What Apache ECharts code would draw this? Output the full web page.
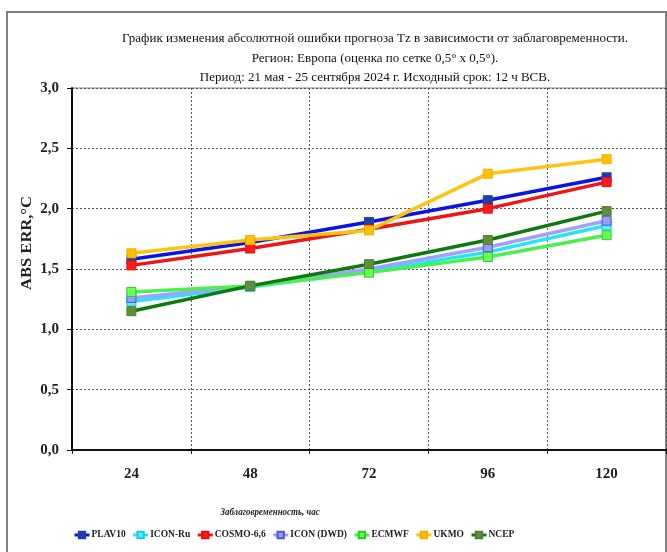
<!DOCTYPE html>
<html><head><meta charset="utf-8">
<script src="https://cdn.jsdelivr.net/npm/echarts@6/dist/echarts.min.js"></script>
<style>html,body{margin:0;padding:0;background:#fff}#c{width:667px;height:552px}</style>
</head><body><div id="c"></div>
<script>
const categories = ['24','48','72','96','120'];
const yTicks = ['0,0','0,5','1,0','1,5','2,0','2,5','3,0'];
const PLAV10 = [1.58, 1.72, 1.89, 2.07, 2.26];
const ICON_Ru = [1.23, 1.35, 1.48, 1.64, 1.86];
const COSMO = [1.53, 1.67, 1.83, 2.00, 2.22];
const ICON_DWD = [1.26, 1.36, 1.50, 1.68, 1.90];
const ECMWF = [1.31, 1.36, 1.47, 1.60, 1.78];
const UKMO = [1.63, 1.74, 1.82, 2.29, 2.41];
const NCEP = [1.15, 1.36, 1.54, 1.74, 1.98];
const names = ['PLAV10','ICON-Ru','COSMO-6,6','ICON (DWD)','ECMWF','UKMO','NCEP'];
const dataSets = [PLAV10, ICON_Ru, COSMO, ICON_DWD, ECMWF, UKMO, NCEP];
const lineColors = ['#0a14e6','#22e6f5','#f01414','#a0a0ff','#4cf04c','#ffc20e','#0e7a0e'];
const markColors = ['#1f3fa8','#55f0ff','#ff1a1a','#9a9aff','#66ff55','#ffc000','#5f8f3c'];
const markBorders = ['#1f3fa8','#22c8e0','#e01010','#4a5ad8','#2ec82e','#f0b000','#4f7f30'];

const serif = '"Liberation Serif","Times New Roman",serif';
const chart = echarts.init(document.getElementById('c'));
chart.setOption({
  animation: false,
  title: {
    text: 'График изменения абсолютной ошибки прогноза Tz в зависимости от заблаговременности.\nРегион: Европа (оценка по сетке 0,5° x 0,5°).\nПериод: 21 мая - 25 сентября 2024 г. Исходный срок: 12 ч ВСВ.',
    left: 370, top: 24, textAlign: 'center',
    textStyle: {fontFamily: serif, fontSize: 13, fontWeight: 'normal', color: '#111', lineHeight: 19.5}
  },
  graphic: [
    {type:'rect', shape:{x:7, y:12, width:659, height:560}, style:{fill:'none', stroke:'#808080', lineWidth:2}, silent:true},
    {type:'text', x:270, y:512, scaleX:0.85, style:{text:'Заблаговременность, час', font:'italic bold 10.5px '+serif, fill:'#222', textAlign:'center', textVerticalAlign:'middle'}},
    {type:'text', x:27, y:243, rotation:Math.PI/2, scaleX:1.18, style:{text:'ABS ERR,°C', font:'bold 14px '+serif, fill:'#222', textAlign:'center', textVerticalAlign:'middle'}}
  ],
  legend: {
    left: 68, top: 525, itemWidth: 15, itemHeight: 8, itemGap: 6,
    lineStyle: {width: 3},
    textStyle: {fontFamily: serif, fontSize: 9.5, fontWeight: 'bold', color: '#222', padding:[0,0,0,-3]},
    data: names
  },
  grid: {left: 72, right: 1, top: 88, bottom: 102, show: true, borderColor: '#888', borderWidth: 1},
  xAxis: {
    type: 'category', data: categories, boundaryGap: true,
    axisLine: {lineStyle: {color: '#111', width: 2}},
    axisTick: {show: true, length: 4, lineStyle: {color: '#111'}},
    axisLabel: {fontFamily: serif, fontSize: 15, fontWeight: 'bold', color: '#222', margin: 17},
    splitLine: {show: true, lineStyle: {color: '#555', type: [2,2], width: 1}}
  },
  yAxis: {
    type: 'value', min: 0, max: 3, interval: 0.5,
    axisLine: {show: true, lineStyle: {color: '#111', width: 2}},
    axisTick: {show: true, length: 5, lineStyle: {color: '#111'}},
    axisLabel: {fontFamily: serif, fontSize: 15, fontWeight: 'bold', color: '#222', margin: 13,
      formatter: function(v){ return yTicks[Math.round(v*2)]; }},
    splitLine: {show: true, lineStyle: {color: '#555', type: [2,2], width: 1}}
  },
  series: names.map(function(n, i){
    return {
      name: n, type: 'line', data: dataSets[i],
      symbol: 'rect', symbolSize: 9,
      lineStyle: {color: lineColors[i], width: 3.5},
      itemStyle: {color: markColors[i], borderColor: markBorders[i], borderWidth: 1},
      emphasis: {disabled: true}
    };
  })
});
</script></body></html>
